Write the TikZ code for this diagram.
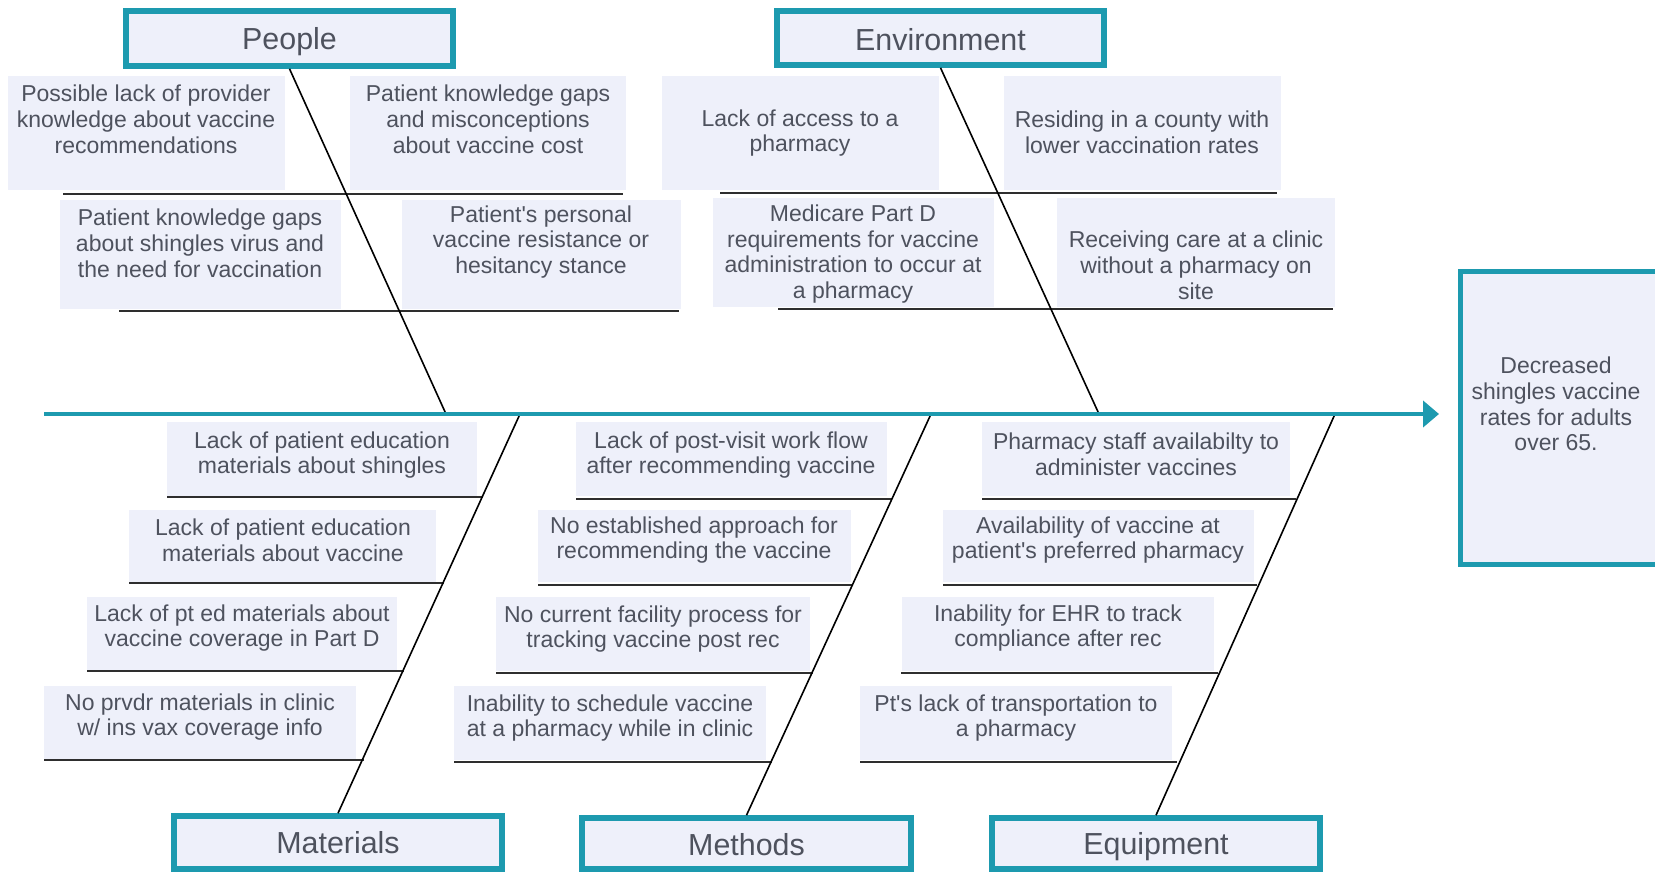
\documentclass[tikz,border=0pt]{standalone}
\usepackage{fontspec}
\setmainfont{Liberation Sans}
\usetikzlibrary{fit,arrows.meta}
\definecolor{fishteal}{HTML}{1D9AAF}
\definecolor{boxfill}{HTML}{EEF0FA}
\definecolor{inkgray}{HTML}{4E525E}
\definecolor{ribgray}{HTML}{2E2E2E}
\newcommand\apos{\textquotesingle}
\begin{document}
\begin{tikzpicture}[x=0.5pt,y=-0.5pt,
  causebox/.style={fill=boxfill, draw=none, inner sep=0pt},
  causetext/.style={text=inkgray, align=center, inner sep=0pt,
    font=\fontsize{11.5}{12.9}\selectfont},
  catbox/.style={draw=fishteal, line width=2.8pt, fill=boxfill, inner sep=0pt},
  cattext/.style={text=inkgray, inner sep=0pt, font=\fontsize{15.2}{18}\selectfont},
  effectbox/.style={draw=fishteal, line width=2.5pt, fill=boxfill, inner sep=0pt},
  bone/.style={draw=black, line width=0.8pt},
  rib/.style={draw=ribgray, line width=1pt},
  spine/.style={draw=fishteal, line width=2.4pt, -{Triangle[length=8pt,width=13pt]}}]
\useasboundingbox[fill=white] (0,0) rectangle (1655,872);

% ---------- cause boxes (upper half) ----------
\node[causebox, fit={(8,76) (285,190)}] (p1) {};
\node[causebox, fit={(350,76) (626,190)}] (p2) {};
\node[causebox, fit={(60,200) (341,309)}] (p3) {};
\node[causebox, fit={(402,200) (681,309)}] (p4) {};
\node[causebox, fit={(662,76) (939,190)}] (v1) {};
\node[causebox, fit={(1004,76) (1281,190)}] (v2) {};
\node[causebox, fit={(713,198) (994,307)}] (v3) {};
\node[causebox, fit={(1057,198) (1335,307)}] (v4) {};

% ---------- cause boxes (lower half) ----------
\node[causebox, fit={(167,422) (477,496)}] (m1) {};
\node[causebox, fit={(129,510) (436,582)}] (m2) {};
\node[causebox, fit={(87,597) (397,671)}] (m3) {};
\node[causebox, fit={(44,686) (356,760)}] (m4) {};
\node[causebox, fit={(576,422) (887,496)}] (t1) {};
\node[causebox, fit={(538,510) (851,582)}] (t2) {};
\node[causebox, fit={(496,597) (810,671)}] (t3) {};
\node[causebox, fit={(454,686) (766,760)}] (t4) {};
\node[causebox, fit={(982,422) (1290,496)}] (e1) {};
\node[causebox, fit={(943,510) (1254,582)}] (e2) {};
\node[causebox, fit={(902,597) (1214,671)}] (e3) {};
\node[causebox, fit={(860,686) (1172,760)}] (e4) {};

% ---------- ribs under the causes ----------
\draw[rib] (63,194) -- (623,194);
\draw[rib] (119,311) -- (679,311);
\draw[rib] (720,193) -- (1277,193);
\draw[rib] (778,309) -- (1333,309);
\draw[rib] (167,497) -- (482.6,497);
\draw[rib] (129,583) -- (443.8,583);
\draw[rib] (87,671) -- (404.1,671);
\draw[rib] (44,760) -- (363.9,760);
\draw[rib] (576,499) -- (892.2,499);
\draw[rib] (538,585) -- (853.0,585);
\draw[rib] (496,673) -- (812.9,673);
\draw[rib] (454,762) -- (772.3,762);
\draw[rib] (982,499) -- (1296.4,499);
\draw[rib] (943,585) -- (1257.4,585);
\draw[rib] (901,673) -- (1217.5,673);
\draw[rib] (860,762) -- (1177.1,762);

% ---------- category boxes ----------
\node[catbox, fit={(126,11) (453,66)}] (people) {};
\node[catbox, fit={(777,11) (1104,65)}] (environment) {};
\node[catbox, fit={(174,816) (502,869)}] (materials) {};
\node[catbox, fit={(582,818) (911,869)}] (methods) {};
\node[catbox, fit={(992,818) (1320,869)}] (equipment) {};
\node[cattext] (peoplet) at ([yshift=-1.6pt]people.center) {People};
\node[cattext] (environmentt) at ([yshift=-0.6pt]environment.center) {Environment};
\node[cattext] (materialst) at (materials.center) {Materials};
\node[cattext] (methodst) at ([yshift=-0.8pt]methods.center) {Methods};
\node[cattext] (equipmentt) at ([yshift=-1.8pt]equipment.center) {Equipment};

% ---------- spine and bones ----------
\coordinate (tail) at (44,414);
\coordinate (head) at (1439,414);
\coordinate (jp) at (446,414);
\coordinate (jv) at (1099,414);
\coordinate (jm) at (520,414);
\coordinate (jt) at (931,414);
\coordinate (je) at (1335,414);
\draw[bone] (people.south) -- (jp);
\draw[bone] (environment.south) -- (jv);
\draw[bone] (jm) -- (materials.north);
\draw[bone] (jt) -- (methods.north);
\draw[bone] (je) -- (equipment.north);
\draw[spine] (tail) -- (head);

% ---------- effect ----------
\node[effectbox, fit={(1460,271) (1690,564)}] (effect) {};
\node[causetext] (effecttext) at (1556,404)
  {Decreased\\shingles vaccine\\rates for adults\\over 65.};

% ---------- cause texts ----------
\node[causetext] (p1t) at (146,119) {Possible lack of provider\\knowledge about vaccine\\recommendations};
\node[causetext] (p2t) at (488,119) {Patient knowledge gaps\\and misconceptions\\about vaccine cost};
\node[causetext] (p3t) at (200,243) {Patient knowledge gaps\\about shingles virus and\\the need for vaccination};
\node[causetext] (p4t) at (541,242) {Patient\apos s personal\\vaccine resistance or\\hesitancy stance};
\node[causetext] (v1t) at (800,133) {Lack of access to a\\pharmacy};
\node[causetext] (v2t) at (1142,132) {Residing in a county with\\lower vaccination rates};
\node[causetext] (v3t) at (853,254) {Medicare Part D\\requirements for vaccine\\administration to occur at\\a pharmacy};
\node[causetext] (v4t) at (1196,265) {Receiving care at a clinic\\without a pharmacy on\\site};

\node[causetext] (m1t) at (322,455) {Lack of patient education\\materials about shingles};
\node[causetext] (m2t) at (283,540) {Lack of patient education\\materials about vaccine};
\node[causetext] (m3t) at (242,628) {Lack of pt ed materials about\\vaccine coverage in Part D};
\node[causetext] (m4t) at (200,717) {No prvdr materials in clinic\\w/ ins vax coverage info};
\node[causetext] (t1t) at (731,455) {Lack of post-visit work flow\\after recommending vaccine};
\node[causetext] (t2t) at (694,540) {No established approach for\\recommending the vaccine};
\node[causetext] (t3t) at (653,629) {No current facility process for\\tracking vaccine post rec};
\node[causetext] (t4t) at (610,718) {Inability to schedule vaccine\\at a pharmacy while in clinic};
\node[causetext] (e1t) at (1136,454) {Pharmacy staff availabilty to\\administer vaccines};
\node[causetext] (e2t) at (1098,540) {Availability of vaccine at\\patient\apos s preferred pharmacy};
\node[causetext] (e3t) at (1058,628) {Inability for EHR to track\\compliance after rec};
\node[causetext] (e4t) at (1016,718) {Pt\apos s lack of transportation to\\a pharmacy};
\end{tikzpicture}
\end{document}
